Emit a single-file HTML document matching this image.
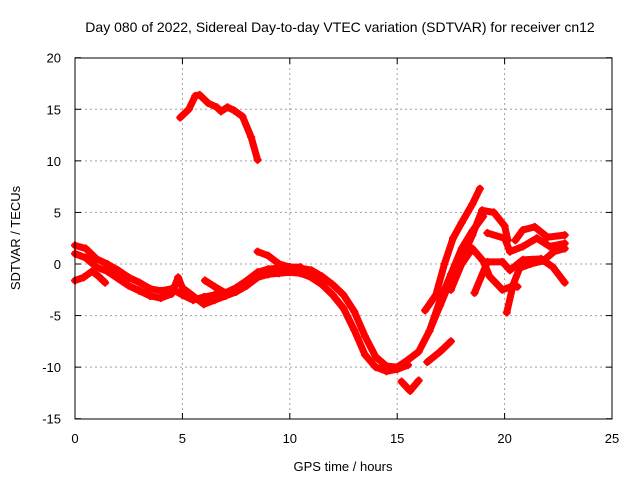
<!DOCTYPE html>
<html><head><meta charset="utf-8"><style>
body{margin:0;background:#fff}
svg{font-family:"Liberation Sans",sans-serif;font-size:13px}
</style></head><body>
<svg id="chart" width="640" height="480">
<rect width="640" height="480" fill="#fff"/>
<text x="340" y="32" text-anchor="middle" font-size="14">Day 080 of 2022, Sidereal Day-to-day VTEC variation (SDTVAR) for receiver cn12</text>
<g id="grid"></g>
<g id="ticks"></g>
<g id="series"></g>
<rect x="75" y="58" width="537" height="361" fill="none" stroke="#000"/>
<text x="343" y="471" text-anchor="middle">GPS time / hours</text>
<text transform="translate(20,238) rotate(-90)" text-anchor="middle">SDTVAR / TECUs</text>
</svg>
<script>
const xTicks=[0,5,10,15,20,25];
const yTicks=[20,15,10,5,0,-5,-10,-15];
const s1=[[4.9,14.2],[5.3,15],[5.6,16.3],[5.8,16.4],[6.2,15.6],[6.6,15.2],[6.8,14.8],[7.1,15.2],[7.4,14.9],[7.8,14.3],[8.2,12.3],[8.5,10.1]];
const s2=[[0,1.8],[0.5,1.5],[1,0.5],[1.5,0],[2,-0.6],[2.5,-1.3],[3,-1.8],[3.5,-2.4],[4,-2.6],[4.5,-2.4],[5,-3],[5.5,-3.5],[6,-3.2],[6.5,-3],[7,-2.8],[7.5,-2.3],[8,-1.6],[8.5,-0.8],[9,-0.5],[9.5,-0.4],[10,-0.3],[10.5,-0.4],[11,-0.6],[11.5,-1.2],[12,-2],[12.5,-3],[13,-4.6],[13.5,-7],[14,-9],[14.5,-9.9],[15,-10],[15.5,-9.3],[16,-8.5],[16.5,-6.5],[17,-3.5],[17.5,-1],[18,1.5],[18.5,3.2],[19,4.6]];
const s3=[[0,1],[0.5,0.6],[1,-0.3],[1.5,-0.7],[2,-1.4],[2.5,-2.1],[3,-2.6],[3.5,-3.1],[4,-3.3],[4.5,-2.9],[4.8,-1.3],[5,-2.3],[5.5,-3.1],[6,-3.9],[6.5,-3.5],[7,-3.1],[7.5,-2.7],[8,-2.1],[8.5,-1.3],[9,-1],[9.5,-0.9],[10,-0.8],[10.5,-0.9],[11,-1.3],[11.5,-2],[12,-3],[12.5,-4.3],[13,-6.4],[13.5,-8.8],[14,-10],[14.5,-10.4],[15,-10.2],[15.5,-9.8]];
const s4=[[0,-1.6],[0.4,-1.3],[0.8,-0.7],[1.1,-1.2],[1.4,-1.8]];
const s5=[[6.05,-1.6],[6.5,-2.2],[7,-2.8]];
const s6=[[8.5,1.2],[9,0.8],[9.5,0],[10,-0.3],[10.5,-0.3]];
const s7=[[15.2,-11.4],[15.6,-12.3],[16,-11.3]];
const s8=[[16.4,-9.5],[17,-8.5],[17.5,-7.5]];
const s9=[[16.3,-4.5],[16.8,-3],[17.2,0],[17.6,2.5],[18,4],[18.5,5.8],[18.85,7.3]];
const s10=[[16.5,-6.5],[17,-4],[17.5,-1.5],[18,0.5],[18.5,2.8],[18.95,5.2],[19.5,5],[20,3.7],[20.15,2.3]];
const s11=[[17.5,-2.5],[18,0],[18.5,1.5],[19,0.3],[19.3,-1.2],[19.9,-2.5],[20.3,-2.2],[20.6,-2.2]];
const s12=[[18.6,-2.8],[19.2,0.2],[19.9,0.2],[20.25,-0.6],[20.85,0.4],[21.7,0.5],[22.25,-0.3],[22.8,-1.8]];
const s13=[[19.2,3],[20,2.5],[20.25,1.2],[20.85,1.7],[21.5,2.5],[22.1,1.7],[22.8,2]];
const s14=[[20.5,2.3],[20.85,3.3],[21.4,3.6],[22,2.6],[22.8,2.8]];
const s15=[[20.1,-4.7],[20.4,-2],[20.7,-0.4],[21.2,0],[21.8,0.3],[22.3,1.2],[22.8,1.5]];
const allSeries=[s1,s2,s3,s4,s5,s6,s7,s8,s9,s10,s11,s12,s13,s14,s15];
const X=h=>75+h*537/25, Y=v=>264-v*361/35;
const NS="http://www.w3.org/2000/svg";
function mk(t,a,p){const e=document.createElementNS(NS,t);for(const k in a)e.setAttribute(k,a[k]);p.appendChild(e);return e;}
const grid=document.getElementById('grid'),ticks=document.getElementById('ticks'),ser=document.getElementById('series');
xTicks.forEach(t=>{
 const x=X(t);
 if(t>0&&t<25){const g=mk('line',{x1:x,x2:x,y1:58,y2:419,stroke:'#a0a0a0','stroke-dasharray':'2,3'},grid);
 
 }
 mk('line',{x1:x,x2:x,y1:419,y2:413,stroke:'#000'},ticks);mk('line',{x1:x,x2:x,y1:58,y2:64,stroke:'#000'},ticks);
 const l=mk('text',{x:x,y:443,'text-anchor':'middle'},ticks);l.textContent=t;
 
 
});
yTicks.forEach(t=>{
 const y=Y(t);
 if(t<20&&t>-15){const g=mk('line',{x1:75,x2:612,y1:y,y2:y,stroke:'#a0a0a0','stroke-dasharray':'2,3'},grid);
 
 }
 mk('line',{x1:75,x2:81,y1:y,y2:y,stroke:'#000'},ticks);mk('line',{x1:612,x2:606,y1:y,y2:y,stroke:'#000'},ticks);
 const l=mk('text',{x:61,y:y+5,'text-anchor':'end'},ticks);l.textContent=t;
 
 
});
allSeries.forEach((s,i)=>{
 const g=mk('g',{},ser);
 
 
 mk('polyline',{points:s.map(p=>X(p[0])+','+Y(p[1])).join(' '),fill:'none',stroke:'#ff0000','stroke-width':7,'stroke-linejoin':'round','stroke-linecap':'round'},g);
 s.forEach(p=>{const x=X(p[0]),y=Y(p[1]);
  const m=mk('path',{d:`M${x-4},${y}H${x+4}M${x},${y-4}V${y+4}`,stroke:'#ff0000','stroke-width':2},g);
  
  });
});
</script>
</body></html>
